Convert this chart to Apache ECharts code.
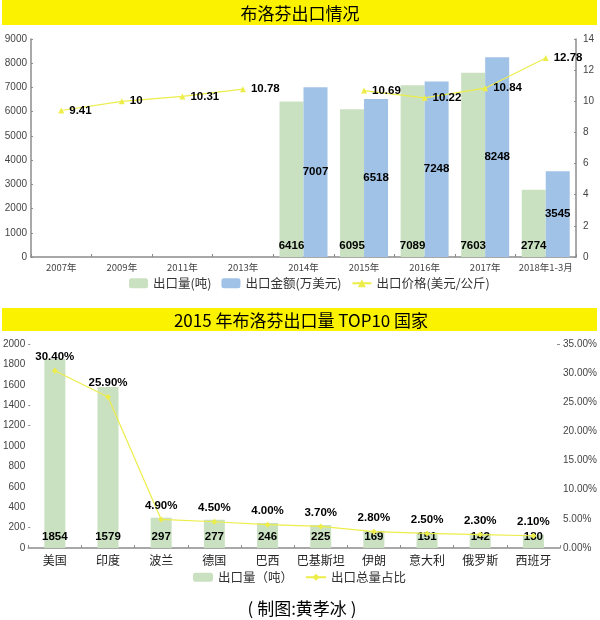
<!DOCTYPE html>
<html>
<head>
<meta charset="utf-8">
<script src="https://cdn.jsdelivr.net/npm/echarts@6/dist/echarts.min.js"></script>
<style>
html,body{margin:0;padding:0;background:#fff;}
#main{width:600px;height:620px;}
</style>
</head>
<body>
<div id="main"></div>
<script>
var CJK = '"Noto Sans CJK SC",sans-serif';
var LATIN = '"Liberation Sans",Arial,sans-serif';

var years = ['2007年','2009年','2011年','2013年','2014年','2015年','2016年','2017年','2018年1-3月'];
var exportVolume = [null,null,null,null,6416,6095,7089,7603,2774];
var exportAmount = [null,null,null,null,7007,6518,7248,8248,3545];
var exportPrice = [9.41,10,10.31,10.78,null,10.69,10.22,10.84,12.78];

var countries = ['美国','印度','波兰','德国','巴西','巴基斯坦','伊朗','意大利','俄罗斯','西班牙'];
var topVolume = [1854,1579,297,277,246,225,169,151,142,130];
var topShare = [30.4,25.9,4.9,4.5,4.0,3.7,2.8,2.5,2.3,2.1];

var GREEN = '#c9e1c1';
var BLUE = '#a0c2e6';
var LINE = '#eded4a';
var AXIS = '#8c8c8c';
var TICK = '#444';

var myChart = echarts.init(document.getElementById('main'));

var numLabel = {
    show: true,
    color: '#000',
    fontFamily: LATIN,
    fontWeight: 'bold',
    fontSize: 11.5
};

function plain(v) { return String(v); }

var option = {
    animation: false,
    backgroundColor: '#fff',
    title: [
        {text: '布洛芬出口情况', left: 295, top: 0, textAlign: 'center',
         textStyle: {fontFamily: CJK, fontWeight: 'normal', fontSize: 17, color: '#000'}},
        {text: '2015 年布洛芬出口量 TOP10 国家', left: 296, top: 307, textAlign: 'center',
         textStyle: {fontFamily: CJK, fontWeight: 'normal', fontSize: 17, color: '#000'}},
        {text: '( 制图:黄孝冰 )', left: 297, top: 595, textAlign: 'center',
         textStyle: {fontFamily: CJK, fontWeight: 'normal', fontSize: 17, color: '#000'}}
    ],
    graphic: [
        {type: 'rect', z: -1, shape: {x: 2, y: 0, width: 595, height: 25}, style: {fill: '#fbf200'}},
        {type: 'rect', z: -1, shape: {x: 2, y: 308, width: 595, height: 23}, style: {fill: '#fbf200'}}
    ],
    legend: [
        {
            data: ['出口量(吨)','出口金额(万美元)','出口价格(美元/公斤)'],
            top: 272, left: 124, itemWidth: 19, itemHeight: 10, itemGap: 10,
            textStyle: {fontFamily: CJK, fontSize: 12.5, color: '#333'}
        },
        {
            data: ['出口量（吨）','出口总量占比'],
            top: 566, left: 188, itemWidth: 20, itemHeight: 9, itemGap: 12,
            textStyle: {fontFamily: CJK, fontSize: 12.5, color: '#333'}
        }
    ],
    grid: [
        {left: 31, right: 24, top: 39, height: 218},
        {left: 26, right: 40, top: 344, height: 204}
    ],
    xAxis: [
        {
            type: 'category', gridIndex: 0, data: years,
            axisLine: {lineStyle: {color: AXIS, width: 1.5}},
            axisTick: {show: true, lineStyle: {color: AXIS}, length: 3, inside: true},
            axisLabel: {color: TICK, fontSize: 9.5, fontFamily: CJK, margin: 6, interval: 0}
        },
        {
            type: 'category', gridIndex: 1, data: countries,
            axisLine: {lineStyle: {color: AXIS, width: 1.5}},
            axisTick: {show: true, lineStyle: {color: AXIS}, length: 3, inside: true},
            axisLabel: {color: '#222', fontSize: 12, fontFamily: CJK, margin: 6, interval: 0}
        }
    ],
    yAxis: [
        {
            type: 'value', gridIndex: 0, min: 0, max: 9000, interval: 1000,
            axisLine: {show: true, lineStyle: {color: AXIS, width: 1.5}},
            axisTick: {show: true, inside: true, length: 2, lineStyle: {color: AXIS}},
            splitLine: {show: false},
            axisLabel: {color: TICK, fontSize: 10, fontFamily: LATIN, margin: 4, formatter: plain}
        },
        {
            type: 'value', gridIndex: 0, min: 0, max: 14, interval: 2, position: 'right',
            axisLine: {show: true, lineStyle: {color: AXIS, width: 1.5}},
            axisTick: {show: true, inside: true, length: 2, lineStyle: {color: AXIS}},
            splitLine: {show: false},
            axisLabel: {color: TICK, fontSize: 10, fontFamily: LATIN, margin: 7, formatter: plain}
        },
        {
            type: 'value', gridIndex: 1, min: 0, max: 2000, interval: 200,
            axisLine: {show: false},
            axisTick: {show: true, inside: true, length: 2, customValues: [200, 1200, 1400, 2000], lineStyle: {color: AXIS}},
            splitLine: {show: false},
            axisLabel: {color: TICK, fontSize: 10, fontFamily: LATIN, margin: 3, formatter: plain}
        },
        {
            type: 'value', gridIndex: 1, min: 0, max: 35, interval: 5, position: 'right',
            axisLine: {show: false},
            axisTick: {show: true, inside: true, length: 3, customValues: [35], lineStyle: {color: AXIS}},
            splitLine: {show: false},
            axisLabel: {color: TICK, fontSize: 10, fontFamily: LATIN, margin: 3,
                formatter: function (v) { return v.toFixed(2) + '%'; }}
        }
    ],
    series: [
        {
            name: '出口量(吨)', type: 'bar', xAxisIndex: 0, yAxisIndex: 0,
            data: exportVolume, barWidth: 24, barGap: 0,
            itemStyle: {color: GREEN},
            label: Object.assign({}, numLabel, {position: 'insideBottom', distance: 5})
        },
        {
            name: '出口金额(万美元)', type: 'bar', xAxisIndex: 0, yAxisIndex: 0,
            data: exportAmount, barWidth: 24, barGap: 0,
            itemStyle: {color: BLUE},
            label: Object.assign({}, numLabel, {position: 'inside'})
        },
        {
            name: '出口价格(美元/公斤)', type: 'line', xAxisIndex: 0, yAxisIndex: 1,
            data: exportPrice, connectNulls: false,
            symbol: 'triangle', symbolSize: 6,
            lineStyle: {color: LINE, width: 1.2},
            itemStyle: {color: LINE},
            label: Object.assign({}, numLabel, {position: 'right', distance: 5})
        },
        {
            name: '出口量（吨）', type: 'bar', xAxisIndex: 1, yAxisIndex: 2,
            data: topVolume, barWidth: 21,
            itemStyle: {color: GREEN},
            label: Object.assign({}, numLabel, {position: 'insideBottom', distance: 5})
        },
        {
            name: '出口总量占比', type: 'line', xAxisIndex: 1, yAxisIndex: 3,
            data: topShare,
            symbol: 'diamond', symbolSize: 6,
            lineStyle: {color: LINE, width: 1.2},
            itemStyle: {color: LINE},
            label: Object.assign({}, numLabel, {
                position: 'top', distance: 5,
                formatter: function (p) { return p.value.toFixed(2) + '%'; }
            })
        }
    ]
};
myChart.setOption(option);
</script>
</body>
</html>
